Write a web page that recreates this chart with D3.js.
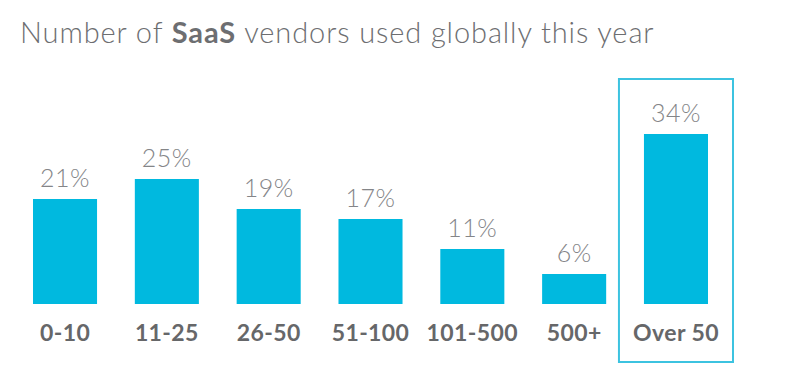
<!DOCTYPE html>
<html>
<head>
<meta charset="utf-8">
<script src="https://cdn.jsdelivr.net/npm/d3@7"></script>
<style>
  body { margin: 0; background: #fff; }
  svg { display: block; }
</style>
</head>
<body>
<script>
const categories = ['0-10', '11-25', '26-50', '51-100', '101-500', '500+', 'Over 50'];
const values = [21, 25, 19, 17, 11, 6, 34];
const highlighted = 'Over 50';

const w = 796;
const h = 386;
const baseY = 304;
const barColor = '#00b9df';
const textGray = '#6d6e71';

const svg = d3.select('body')
  .append('svg')
  .attr('width', w)
  .attr('height', h);

// title
const title = svg.append('text')
  .attr('x', 20)
  .attr('y', 43)
  .attr('fill', textGray)
  .style('font-family', 'Lato, sans-serif')
  .style('font-weight', 300)
  .style('font-size', '29px')
  .style('letter-spacing', '0.9px');
title.append('tspan').text('Number of ');
title.append('tspan').style('font-weight', 700).text('SaaS');
title.append('tspan').text(' vendors used globally this year');

// scales
const xScale = d3.scaleBand()
  .domain(categories)
  .range([33, 708])
  .paddingInner(0.371)
  .paddingOuter(0);

const yScale = d3.scaleLinear()
  .domain([0, 34])
  .range([baseY, baseY - 170]);

// highlight box
svg.append('rect')
  .attr('x', xScale(highlighted) - 25)
  .attr('y', 79)
  .attr('width', xScale.bandwidth() + 50)
  .attr('height', 283)
  .attr('fill', 'none')
  .attr('stroke', '#3cc3e0')
  .attr('stroke-width', 2);

// bars
svg.selectAll('rect.bar')
  .data(categories)
  .enter()
  .append('rect')
  .attr('class', 'bar')
  .attr('x', (d) => xScale(d))
  .attr('y', (d, i) => yScale(values[i]))
  .attr('width', xScale.bandwidth())
  .attr('height', (d, i) => baseY - yScale(values[i]))
  .attr('fill', barColor);

// value labels
svg.selectAll('text.val')
  .data(categories)
  .enter()
  .append('text')
  .attr('class', 'val')
  .attr('x', (d) => xScale(d) + xScale.bandwidth() / 2)
  .attr('y', (d, i) => yScale(values[i]) - 12)
  .attr('text-anchor', 'middle')
  .attr('fill', '#848588')
  .style('font-family', 'Lato, sans-serif')
  .style('font-weight', 300)
  .style('font-size', '25px')
  .style('letter-spacing', '0.5px')
  .text((d, i) => values[i] + '%');

// category axis
const xAxis = d3.axisBottom(xScale).tickSize(0).tickPadding(0);
const axisG = svg.append('g')
  .attr('transform', `translate(0, ${baseY})`)
  .call(xAxis);
axisG.select('.domain').remove();
axisG.selectAll('text')
  .attr('dy', null)
  .attr('y', 37)
  .attr('fill', '#666769')
  .style('font-family', 'Lato, sans-serif')
  .style('font-weight', 700)
  .style('font-size', '23px')
  .style('letter-spacing', '0.4px');
</script>
</body>
</html>
